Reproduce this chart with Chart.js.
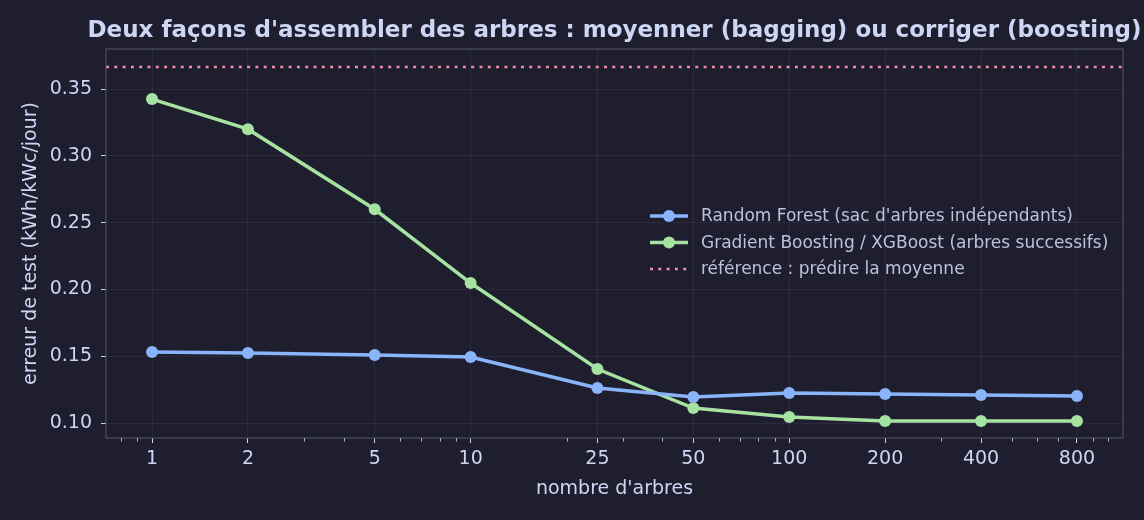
<!DOCTYPE html>
<html>
<head>
<meta charset="utf-8">
<script src="https://cdn.jsdelivr.net/npm/chart.js@4.4.1/dist/chart.umd.min.js"></script>
<style>
  html, body { margin: 0; padding: 0; background: #1e1e2e; }
  #wrap { width: 1144px; height: 520px; }
</style>
</head>
<body>
<div id="wrap"><canvas id="arbres"></canvas></div>
<script>
// nombre d'arbres (axe log)
const nbArbres = [1, 2, 5, 10, 25, 50, 100, 200, 400, 800];
const xTicks = [1, 2, 5, 10, 25, 50, 100, 200, 400, 800];
const xMin = 0.717;
const xMax = 1116;

// erreur de test
const randomForest = [0.1531, 0.1524, 0.1509, 0.1494, 0.1262, 0.1195, 0.1225, 0.1217, 0.1210, 0.1202];
const boosting = [0.3425, 0.3200, 0.2600, 0.2048, 0.1404, 0.1112, 0.1045, 0.1015, 0.1015, 0.1015];
const reference = 0.3665;

const yTicks = [0.10, 0.15, 0.20, 0.25, 0.30, 0.35];
const yMin = 0.0888;
const yMax = 0.380;

const titre = "Deux façons d'assembler des arbres : moyenner (bagging) ou corriger (boosting)";
const labelRF = "Random Forest (sac d'arbres indépendants)";
const labelGB = "Gradient Boosting / XGBoost (arbres successifs)";
const labelRef = "référence : prédire la moyenne";

const BLEU = "#89b4fa", VERT = "#a6e3a1", ROSE = "#f38ba8";
const TEXTE = "#cdd6f4", GRILLE = "rgba(205,214,244,0.07)", CADRE = "#4c4f63";
const FONT = "'DejaVu Sans', sans-serif";

// graduations mineures comme en échelle log
const minorTicks = [];
for (let p = -1; p <= 3; p++) {
    for (let m = 1; m <= 9; m++) {
        const v = m * Math.pow(10, p);
        if (v >= xMin && v <= xMax && !xTicks.some(t => Math.abs(t - v) < 1e-9)) minorTicks.push(v);
    }
}

const toPts = (vals) => nbArbres.map((n, i) => ({ x: n, y: vals[i] }));

const cadrePlugin = {
    id: "cadre",
    afterDraw(chart) {
        const { ctx, chartArea: a } = chart;
        const sx = chart.scales.x;
        ctx.save();
        ctx.strokeStyle = CADRE;
        ctx.lineWidth = 1.2;
        ctx.strokeRect(a.left, a.top, a.right - a.left, a.bottom - a.top);
        // graduations mineures
        ctx.strokeStyle = TEXTE;
        ctx.lineWidth = 0.8;
        minorTicks.forEach(v => {
            const px = Math.round(sx.getPixelForValue(v)) + 0.5;
            ctx.beginPath();
            ctx.moveTo(px, a.bottom);
            ctx.lineTo(px, a.bottom + 3.5);
            ctx.stroke();
        });
        // titre centré sur la zone de tracé
        ctx.font = "bold 23px " + FONT;
        ctx.fillStyle = TEXTE;
        ctx.textAlign = "center";
        ctx.textBaseline = "middle";
        ctx.fillText(titre, (a.left + a.right) / 2, 31);
        // légende
        const items = chart.data.datasets;
        const lx = 650, ly = 216, dy = 26.5;
        ctx.font = "17px " + FONT;
        ctx.textAlign = "left";
        items.forEach((ds, i) => {
            const y = ly + i * dy;
            ctx.strokeStyle = ds.borderColor;
            ctx.lineWidth = ds.borderWidth;
            ctx.setLineDash(ds.borderDash || []);
            ctx.beginPath();
            ctx.moveTo(lx, y);
            ctx.lineTo(lx + 38, y);
            ctx.stroke();
            ctx.setLineDash([]);
            if (ds.pointRadius > 0) {
                ctx.fillStyle = ds.borderColor;
                ctx.beginPath();
                ctx.arc(lx + 19, y, ds.pointRadius, 0, Math.PI * 2);
                ctx.fill();
            }
            ctx.fillStyle = "#bac2de";
            ctx.fillText(ds.label, lx + 51, y + 1);
        });
        ctx.restore();
    }
};

new Chart(document.getElementById("arbres").getContext("2d"), {
    type: "line",
    data: {
        datasets: [
            {
                label: labelRF,
                data: toPts(randomForest),
                borderColor: BLEU,
                backgroundColor: BLEU,
                borderWidth: 3.5,
                pointRadius: 6,
                pointHoverRadius: 6,
                pointBorderWidth: 0,
            },
            {
                label: labelGB,
                data: toPts(boosting),
                borderColor: VERT,
                backgroundColor: VERT,
                borderWidth: 3.5,
                pointRadius: 6,
                pointHoverRadius: 6,
                pointBorderWidth: 0,
            },
            {
                label: labelRef,
                data: [{ x: xMin, y: reference }, { x: xMax, y: reference }],
                borderColor: ROSE,
                backgroundColor: ROSE,
                borderWidth: 2.5,
                borderDash: [3, 5.3],
                pointRadius: 0,
            },
        ],
    },
    options: {
        responsive: true,
        maintainAspectRatio: false,
        animation: false,
        layout: { padding: { top: 49, right: 21 } },
        plugins: {
            legend: { display: false },
            tooltip: { enabled: false },
            title: { display: false },
        },
        scales: {
            x: {
                type: "logarithmic",
                bounds: "data",
                min: xMin,
                max: xMax,
                afterBuildTicks: (scale) => { scale.ticks = xTicks.map(v => ({ value: v })); },
                afterFit: (scale) => { scale.height = 82; },
                ticks: {
                    color: TEXTE,
                    font: { family: FONT, size: 19 },
                    padding: 5,
                    maxRotation: 0,
                    autoSkip: false,
                    callback: (v) => String(v),
                },
                grid: { color: GRILLE, tickColor: TEXTE, tickLength: 5, drawTicks: true },
                border: { display: false },
                title: {
                    display: true,
                    text: "nombre d'arbres",
                    color: TEXTE,
                    font: { family: FONT, size: 19 },
                    padding: { top: 4, bottom: 20 },
                },
            },
            y: {
                min: yMin,
                max: yMax,
                afterBuildTicks: (scale) => { scale.ticks = yTicks.map(v => ({ value: v })); },
                afterFit: (scale) => { scale.width = 106; },
                ticks: {
                    color: TEXTE,
                    font: { family: FONT, size: 19 },
                    padding: 9,
                    callback: (v) => v.toFixed(2),
                },
                grid: { color: GRILLE, tickColor: TEXTE, tickLength: 5 },
                border: { display: false },
                title: {
                    display: true,
                    text: "erreur de test (kWh/kWc/jour)",
                    color: TEXTE,
                    font: { family: FONT, size: 19 },
                    padding: { top: 20, bottom: 4 },
                },
            },
        },
    },
    plugins: [cadrePlugin],
});
</script>
</body>
</html>
